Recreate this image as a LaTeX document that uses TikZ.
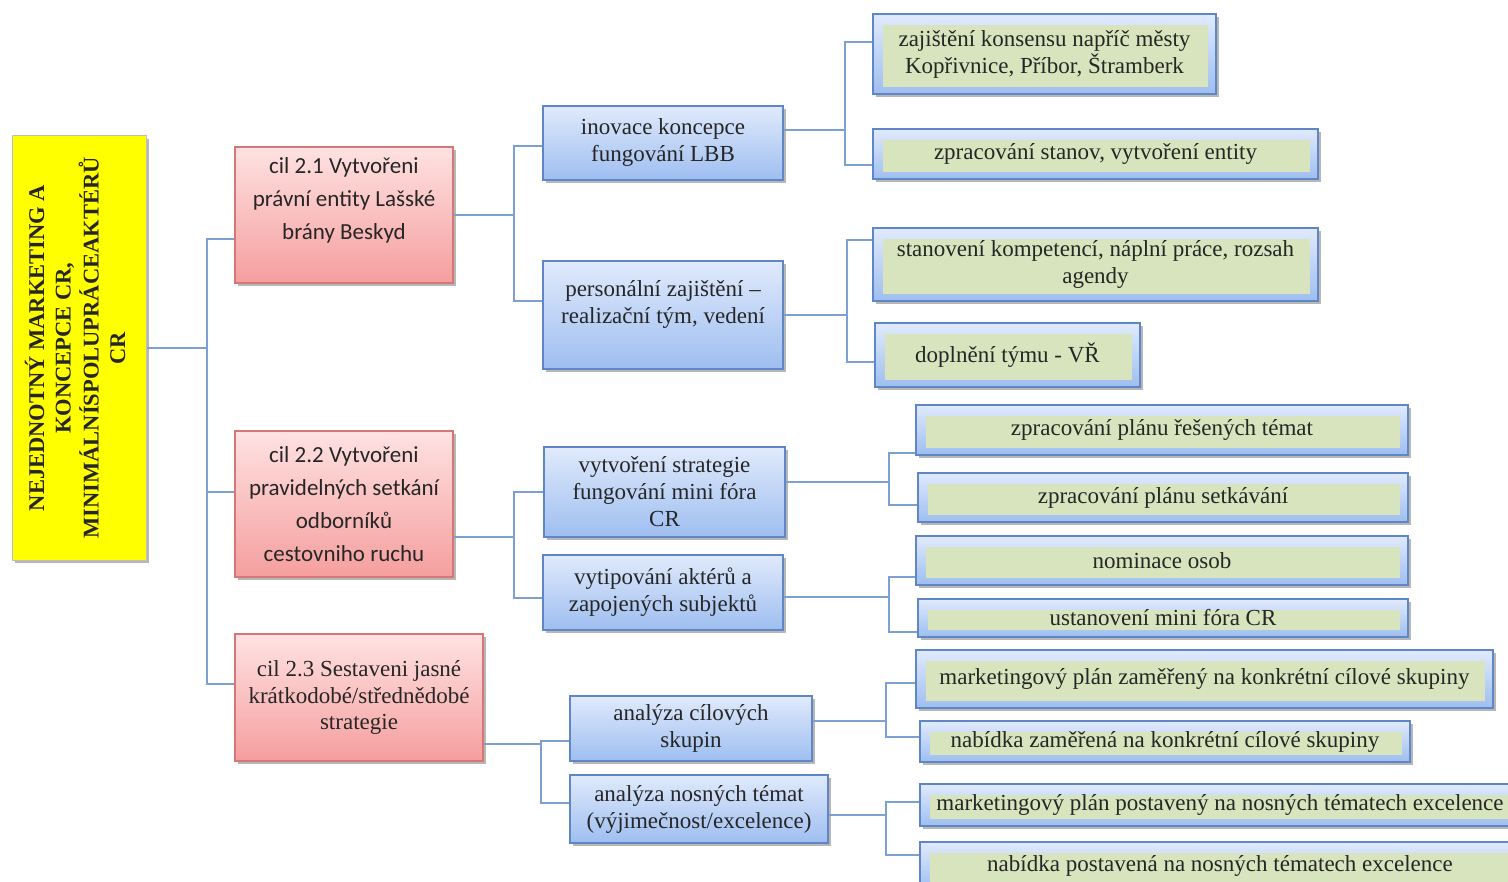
\documentclass[tikz,border=0pt]{standalone}
\usepackage{fontspec}
\usepackage{graphicx}
\setmainfont{Liberation Serif}
\newfontfamily\calibfont{Carlito}
\usetikzlibrary{shadows}
\definecolor{rootyellow}{RGB}{255,255,0}
\definecolor{goalline}{RGB}{214,118,118}
\definecolor{goaltop}{RGB}{255,226,226}
\definecolor{goalbottom}{RGB}{245,158,158}
\definecolor{taskline}{RGB}{95,135,200}
\definecolor{tasktop}{RGB}{224,234,252}
\definecolor{taskbottom}{RGB}{158,190,240}
\definecolor{actgreen}{RGB}{215,228,189}
\definecolor{linkblue}{RGB}{125,160,210}
\begin{document}
\begin{tikzpicture}[x=1pt,y=-1pt,
  every node/.style={text=black!85,align=center,inner sep=0pt},
  link/.style={draw=linkblue,line width=2pt},
  boxshadow/.style={drop shadow={shadow xshift=3pt,shadow yshift=-3pt,opacity=.4,fill=black!70}},
  rootbox/.style={fill=rootyellow,draw=black!25,line width=1pt,boxshadow,font=\fontsize{22.5}{26.5}\selectfont\bfseries},
  goal/.style={draw=goalline,line width=1.5pt,top color=goaltop,bottom color=goalbottom,boxshadow},
  task/.style={draw=taskline,line width=1.5pt,top color=tasktop,bottom color=taskbottom,boxshadow,font=\fontsize{23}{27}\selectfont},
  act/.style={task,path picture={\fill[actgreen] ([shift={(10pt,-11pt)}]path picture bounding box.north west) rectangle ([shift={(-8pt,7pt)}]path picture bounding box.south east);}}]
\useasboundingbox (0,0) rectangle (1508,882);

\node[rootbox,minimum width=134,minimum height=424] (root) at (79,348) {\rotatebox{90}{\begin{tabular}{@{}c@{}}NEJEDNOTNÝ MARKETING A\\KONCEPCE CR,\\MINIMÁLNÍSPOLUPRÁCEAKTÉRŮ\\CR\end{tabular}}};

\node[goal,font=\calibfont\fontsize{23}{33}\selectfont,minimum width=218,minimum height=136] (g1) at (344,215) {cil 2.1 Vytvořeni\\právní entity Lašské\\brány Beskyd\\\mbox{}};
\node[goal,font=\calibfont\fontsize{23}{33}\selectfont,minimum width=218,minimum height=146] (g2) at (344,504) {cil 2.2 Vytvořeni\\pravidelných setkání\\odborníků\\cestovniho ruchu};
\node[goal,font=\fontsize{23}{26.5}\selectfont,minimum width=248,minimum height=127] (g3) at (359,697.5) {cil 2.3 Sestaveni jasné\\krátkodobé/střednědobé\\strategie};

\node[task,minimum width=240,minimum height=74] (t11) at (663,143) {inovace koncepce\\fungování LBB};
\node[task,minimum width=240,minimum height=108] (t12) at (663,315) {personální zajištění –\\realizační tým, vedení\\\mbox{}};
\node[task,minimum width=241,minimum height=90] (t21) at (664.5,492) {vytvoření strategie\\fungování mini fóra\\CR};
\node[task,minimum width=240,minimum height=75] (t22) at (663,592.5) {vytipování aktérů a\\zapojených subjektů};
\node[task,minimum width=242,minimum height=65] (t31) at (691,728.5) {analýza cílových\\skupin};
\node[task,minimum width=258,minimum height=68] (t32) at (699,809) {analýza nosných témat\\(výjimečnost/excelence)};

\node[act,minimum width=343,minimum height=80] (a111) at (1044.5,54) {zajištění konsensu napříč městy\\Kopřivnice, Příbor, Štramberk};
\node[act,minimum width=445,minimum height=50] (a112) at (1095.5,154) {zpracování stanov, vytvoření entity};
\node[act,minimum width=445,minimum height=73] (a121) at (1095.5,264.5) {stanovení kompetencí, náplní práce, rozsah\\agendy};
\node[act,minimum width=265,minimum height=64] (a122) at (1007.5,355) {doplnění týmu - VŘ};
\node[act,minimum width=492,minimum height=50] (a211) at (1162,430) {zpracování plánu řešených témat};
\node[act,minimum width=490,minimum height=49] (a212) at (1163,497.5) {zpracování plánu setkávání};
\node[act,minimum width=492,minimum height=49] (a221) at (1162,560.5) {nominace osob};
\node[act,minimum width=490,minimum height=38] (a222) at (1163,618) {ustanovení mini fóra CR};
\node[act,minimum width=577,minimum height=58] (a311) at (1204.5,679) {marketingový plán zaměřený na konkrétní cílové skupiny};
\node[act,minimum width=490,minimum height=41] (a312) at (1165,741.5) {nabídka zaměřená na konkrétní cílové skupiny};
\node[act,minimum width=600,minimum height=42] (a321) at (1220,805) {marketingový plán postavený na nosných tématech excelence};
\node[act,minimum width=600,minimum height=48] (a322) at (1220,866) {nabídka postavená na nosných tématech excelence};

\coordinate (j0) at (207,348);
\coordinate (j1) at (514,215);
\coordinate (j2) at (514,537);
\coordinate (j3) at (541,744);
\coordinate (j4) at (845,130);
\coordinate (j5) at (847,315);
\coordinate (j6) at (889,482);
\coordinate (j7) at (889,597);
\coordinate (j8) at (886,721);
\coordinate (j9) at (886,815);

\draw[link] (root.east) -- (j0);
\draw[link] (g1.west |- 0,239) -| (j0) |- (g3.west |- 0,684);
\draw[link] (j0 |- 0,492) -- (g2.west |- 0,492);
\draw[link] (g1.east) -- (j1);
\draw[link] (t11.west |- 0,146) -| (j1) |- (t12.west |- 0,301);
\draw[link] (g2.east |- j2) -- (j2);
\draw[link] (t21.west) -| (j2) |- (t22.west |- 0,598);
\draw[link] (g3.east |- j3) -- (j3);
\draw[link] (t31.west |- 0,741) -| (j3) |- (t32.west |- 0,803);
\draw[link] (t11.east |- j4) -- (j4);
\draw[link] (a111.west |- 0,42) -| (j4) |- (a112.west |- 0,165);
\draw[link] (t12.east) -- (j5);
\draw[link] (a121.west |- 0,240) -| (j5) |- (a122.west |- 0,362);
\draw[link] (t21.east |- j6) -- (j6);
\draw[link] (a211.west |- 0,453) -| (j6) |- (a212.west |- 0,505);
\draw[link] (t22.east |- j7) -- (j7);
\draw[link] (a221.west |- 0,577) -| (j7) |- (a222.west |- 0,632);
\draw[link] (t31.east |- j8) -- (j8);
\draw[link] (a311.west |- 0,683) -| (j8) |- (a312.west |- 0,737);
\draw[link] (t32.east |- j9) -- (j9);
\draw[link] (a321.west |- 0,802) -| (j9) |- (a322.west |- 0,855);
\end{tikzpicture}
\end{document}
